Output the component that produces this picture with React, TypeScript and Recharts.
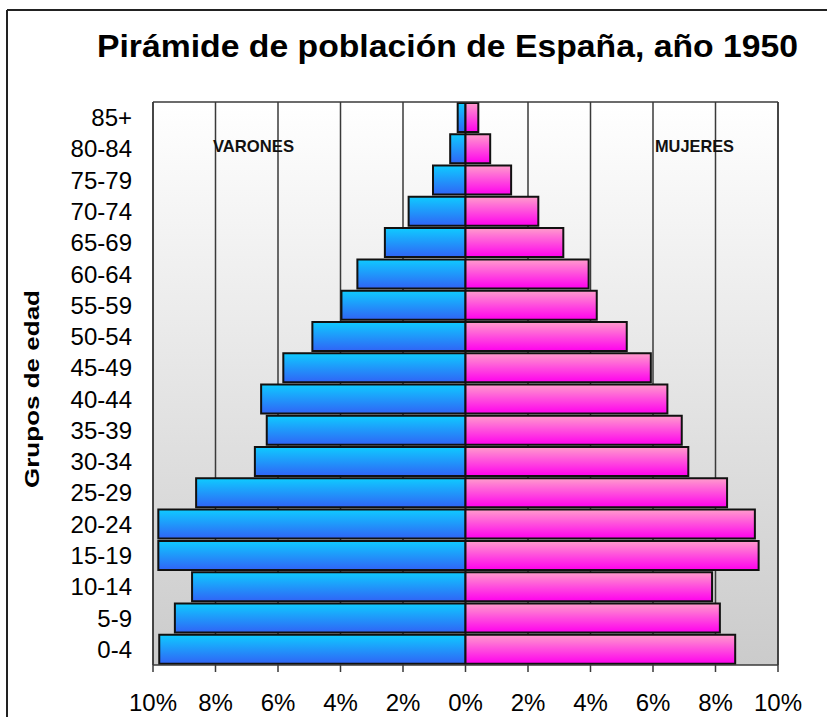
import React from "react";
import {
  BarChart,
  Bar,
  XAxis,
  YAxis,
  CartesianGrid,
  ReferenceLine,
} from "recharts";

const ages = [
  "0-4", "5-9", "10-14", "15-19", "20-24", "25-29", "30-34", "35-39", "40-44",
  "45-49", "50-54", "55-59", "60-64", "65-69", "70-74", "75-79", "80-84", "85+",
];
const varones = [
  9.8, 9.3, 8.75, 9.83, 9.83, 8.62, 6.74, 6.36, 6.54,
  5.83, 4.9, 3.97, 3.46, 2.58, 1.82, 1.04, 0.49, 0.25,
];
const mujeres = [
  8.63, 8.14, 7.89, 9.38, 9.26, 8.37, 7.13, 6.92, 6.46,
  5.93, 5.16, 4.2, 3.94, 3.13, 2.33, 1.46, 0.79, 0.41,
];
const xTicks = [-10, -8, -6, -4, -2, 0, 2, 4, 6, 8, 10];

const title = "Pirámide de población de España, año 1950";
const yLabel = "Grupos de edad";
const leftLabel = "VARONES";
const rightLabel = "MUJERES";

const data = ages.map((age, i) => ({
  age,
  varones: -varones[i],
  mujeres: mujeres[i],
}));

const FONT = "'Liberation Sans', Arial, sans-serif";
const LINE = "#3a3a3a";

export default function App() {
  return (
    <div
      style={{
        position: "absolute",
        left: 0,
        top: 0,
        width: 827,
        height: 717,
        background: "#fff",
        fontFamily: FONT,
        overflow: "hidden",
      }}
    >
      <BarChart
        width={827}
        height={717}
        data={data}
        layout="vertical"
        stackOffset="sign"
        barCategoryGap={1}
        margin={{ top: 101, right: 49, bottom: 0, left: 0 }}
      >
        <defs>
          <linearGradient id="bgGrad" x1="0" y1="0" x2="0" y2="1">
            <stop offset="0%" stopColor="#ffffff" />
            <stop offset="100%" stopColor="#cbcbcb" />
          </linearGradient>
          <linearGradient id="gradV" x1="0" y1="0" x2="0" y2="1">
            <stop offset="0%" stopColor="#0fcbff" />
            <stop offset="100%" stopColor="#3064f6" />
          </linearGradient>
          <linearGradient id="gradM" x1="0" y1="0" x2="0" y2="1">
            <stop offset="0%" stopColor="#ff9ccc" />
            <stop offset="100%" stopColor="#ff00ee" />
          </linearGradient>
        </defs>
        <CartesianGrid
          horizontal={false}
          vertical={true}
          stroke={LINE}
          strokeWidth={1.5}
          fill="url(#bgGrad)"
          fillOpacity={1}
        />
        <XAxis
          type="number"
          domain={[-10, 10]}
          ticks={xTicks}
          interval={0}
          allowDataOverflow
          tickFormatter={(v: number) => `${Math.abs(v)}%`}
          tick={{ fontSize: 24, fill: "#000", fontFamily: FONT }}
          tickSize={7}
          tickMargin={22}
          height={52}
          stroke={LINE}
          strokeWidth={1.5}
        />
        <XAxis
          xAxisId="top"
          orientation="top"
          type="number"
          domain={[-10, 10]}
          height={1}
          tick={false}
          tickLine={false}
          stroke={LINE}
          strokeWidth={1.5}
        />
        <YAxis
          type="category"
          dataKey="age"
          reversed
          width={153}
          interval={0}
          axisLine={false}
          tickLine={false}
          tickSize={0}
          tickMargin={21}
          tick={{ fontSize: 24, fill: "#000", fontFamily: FONT }}
        />
        <ReferenceLine x={-10} stroke={LINE} strokeWidth={1.5} />
        <ReferenceLine x={10} stroke={LINE} strokeWidth={1.5} />
        <Bar
          dataKey="varones"
          stackId="a"
          fill="url(#gradV)"
          stroke="#111"
          strokeWidth={2}
          isAnimationActive={false}
        />
        <Bar
          dataKey="mujeres"
          stackId="a"
          fill="url(#gradM)"
          stroke="#111"
          strokeWidth={2}
          isAnimationActive={false}
        />
      </BarChart>
      <svg
        width={827}
        height={717}
        style={{ position: "absolute", left: 0, top: 0, pointerEvents: "none" }}
      >
        <line x1={7} y1={10} x2={827} y2={10} stroke="#222" strokeWidth={2} />
        <line x1={7} y1={10} x2={7} y2={717} stroke="#222" strokeWidth={2} />
        <text
          x={97}
          y={57}
          fontSize={32}
          fontWeight="bold"
          fontFamily={FONT}
          fill="#000"
          textLength={701}
          lengthAdjust="spacingAndGlyphs"
        >
          {title}
        </text>
        <text
          transform="translate(38.5, 488) rotate(-90)"
          x={0}
          y={0}
          fontSize={21}
          fontWeight="bold"
          fontFamily={FONT}
          fill="#000"
          textLength={198}
          lengthAdjust="spacingAndGlyphs"
        >
          {yLabel}
        </text>
        <text
          x={213}
          y={151.5}
          fontSize={17}
          fontWeight="bold"
          fontFamily={FONT}
          fill="#111"
          textLength={81}
          lengthAdjust="spacingAndGlyphs"
        >
          {leftLabel}
        </text>
        <text
          x={655}
          y={151.5}
          fontSize={17}
          fontWeight="bold"
          fontFamily={FONT}
          fill="#111"
          textLength={79}
          lengthAdjust="spacingAndGlyphs"
        >
          {rightLabel}
        </text>
      </svg>
    </div>
  );
}
